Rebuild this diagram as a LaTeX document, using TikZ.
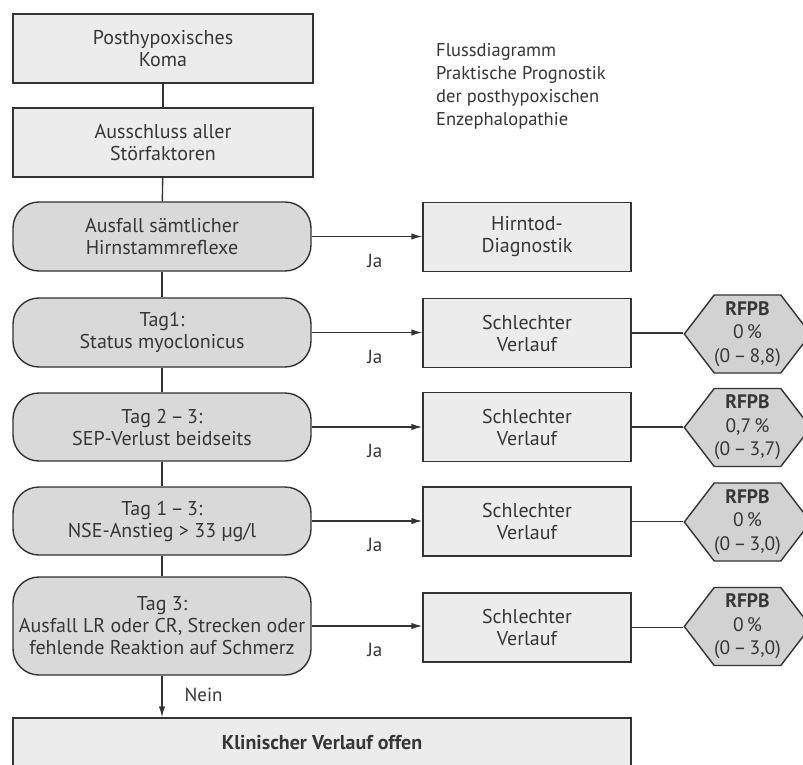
\documentclass[tikz,border=0pt]{standalone}
\usepackage{fontspec}
\setmainfont{PT Sans}
\usetikzlibrary{arrows.meta,shapes.symbols}
\definecolor{edge}{HTML}{333333}
\definecolor{ink}{HTML}{363636}
\definecolor{boxfill}{HTML}{ECECEC}
\definecolor{pillfill}{HTML}{D9D9D9}
\definecolor{hexfill}{HTML}{D2D2D2}
\tikzset{
  base/.style={draw=edge, line width=1.4pt, text=ink, align=center, inner sep=0pt,
    font=\fontsize{20}{22}\selectfont},
  boxnode/.style={base, rectangle, fill=boxfill, minimum width=#1, minimum height=69pt},
  pill/.style={base, rectangle, rounded corners=26pt, fill=pillfill, minimum width=298pt, minimum height=#1},
  hexnode/.style={base, shape=signal, signal to=west and east, signal pointer angle=105,
    fill=hexfill, minimum width=125pt, minimum height=78pt, font=\fontsize{19.5}{23.5}\selectfont},
  conn/.style={draw=edge, line width=1.4pt},
  arr/.style={conn, -{Latex[length=11pt,width=6.5pt]}},
  lbl/.style={text=ink, font=\fontsize{19}{22}\selectfont, inner sep=0pt}
}
\begin{document}
\begin{tikzpicture}[x=1pt,y=-1pt]
\useasboundingbox (0,0) rectangle (803,765);
\clip (0,0) rectangle (803,765);
\fill[white] (0,0) rectangle (803,765);

\node[boxnode=300pt] (b1) at (163,48.5) {Posthypoxisches\\Koma};
\node[boxnode=300pt] (b2) at (163,142.5) {Ausschluss aller\\Störfaktoren};
\node[pill=69pt] (p1) at (162,236.5) {Ausfall sämtlicher\\Hirnstammreflexe};
\node[pill=69pt] (p2) at (162,332.5) {Tag1:\\Status myoclonicus};
\node[pill=68pt] (p3) at (162,427) {Tag 2\,–\,3:\\SEP-Verlust beidseits};
\node[pill=68pt] (p4) at (162,521) {Tag 1\,–\,3:\\NSE-Anstieg > 33 µg/l};
\node[pill=98pt] (p5) at (162,626) {Tag 3:\\Ausfall LR oder CR, Strecken oder\\fehlende Reaktion auf Schmerz};

\node[boxnode=208pt] (r1) at (527,237) {Hirntod-\\Diagnostik};
\node[boxnode=208pt] (r2) at (527,333) {Schlechter\\Verlauf};
\node[boxnode=208pt] (r3) at (527,427) {Schlechter\\Verlauf};
\node[boxnode=208pt] (r4) at (527,521.5) {Schlechter\\Verlauf};
\node[boxnode=208pt] (r5) at (527,627.5) {Schlechter\\Verlauf};

\node[hexnode] (h1) at (747.5,334) {\textbf{RFPB}\\0\,\%\\(0\,–\,8,8)};
\node[hexnode] (h2) at (747.5,427.5) {\textbf{RFPB}\\0,7\,\%\\(0\,–\,3,7)};
\node[hexnode] (h3) at (747.5,522) {\textbf{RFPB}\\0\,\%\\(0\,–\,3,0)};
\node[hexnode] (h4) at (747.5,626.5) {\textbf{RFPB}\\0\,\%\\(0\,–\,3,0)};

\node[base, rectangle, fill=boxfill, minimum width=618pt, minimum height=50pt] (fin) at (322,743)
  {\textbf{Klinischer Verlauf offen}};

\node[lbl, anchor=north west, align=left, font=\fontsize{18.5}{23}\selectfont] (title) at (436,43)
  {Flussdiagramm\\Praktische Prognostik\\der posthypoxischen\\Enzephalopathie};

\draw[conn] (b1) -- (b2);
\draw[conn] (b2) -- (p1);
\draw[conn] (p1) -- (p2);
\draw[conn] (p2) -- (p3);
\draw[conn] (p3) -- (p4);
\draw[conn] (p4) -- (p5);
\draw[arr] (p5.south) -- (p5.south |- fin.north) node[lbl, pos=0.45, anchor=west, xshift=22pt] {Nein};

\foreach \p/\r in {p1/r1,p2/r2,p3/r3,p4/r4,p5/r5}{
  \draw[arr] (\p.east) -- (\p.east -| \r.west) node[lbl, pos=0.57, yshift=-24pt] {Ja};
}
\foreach \r/\h in {r2/h1,r3/h2,r4/h3,r5/h4}{
  \draw[conn] (\r.east) -- (\r.east -| \h.west);
}
\end{tikzpicture}
\end{document}
